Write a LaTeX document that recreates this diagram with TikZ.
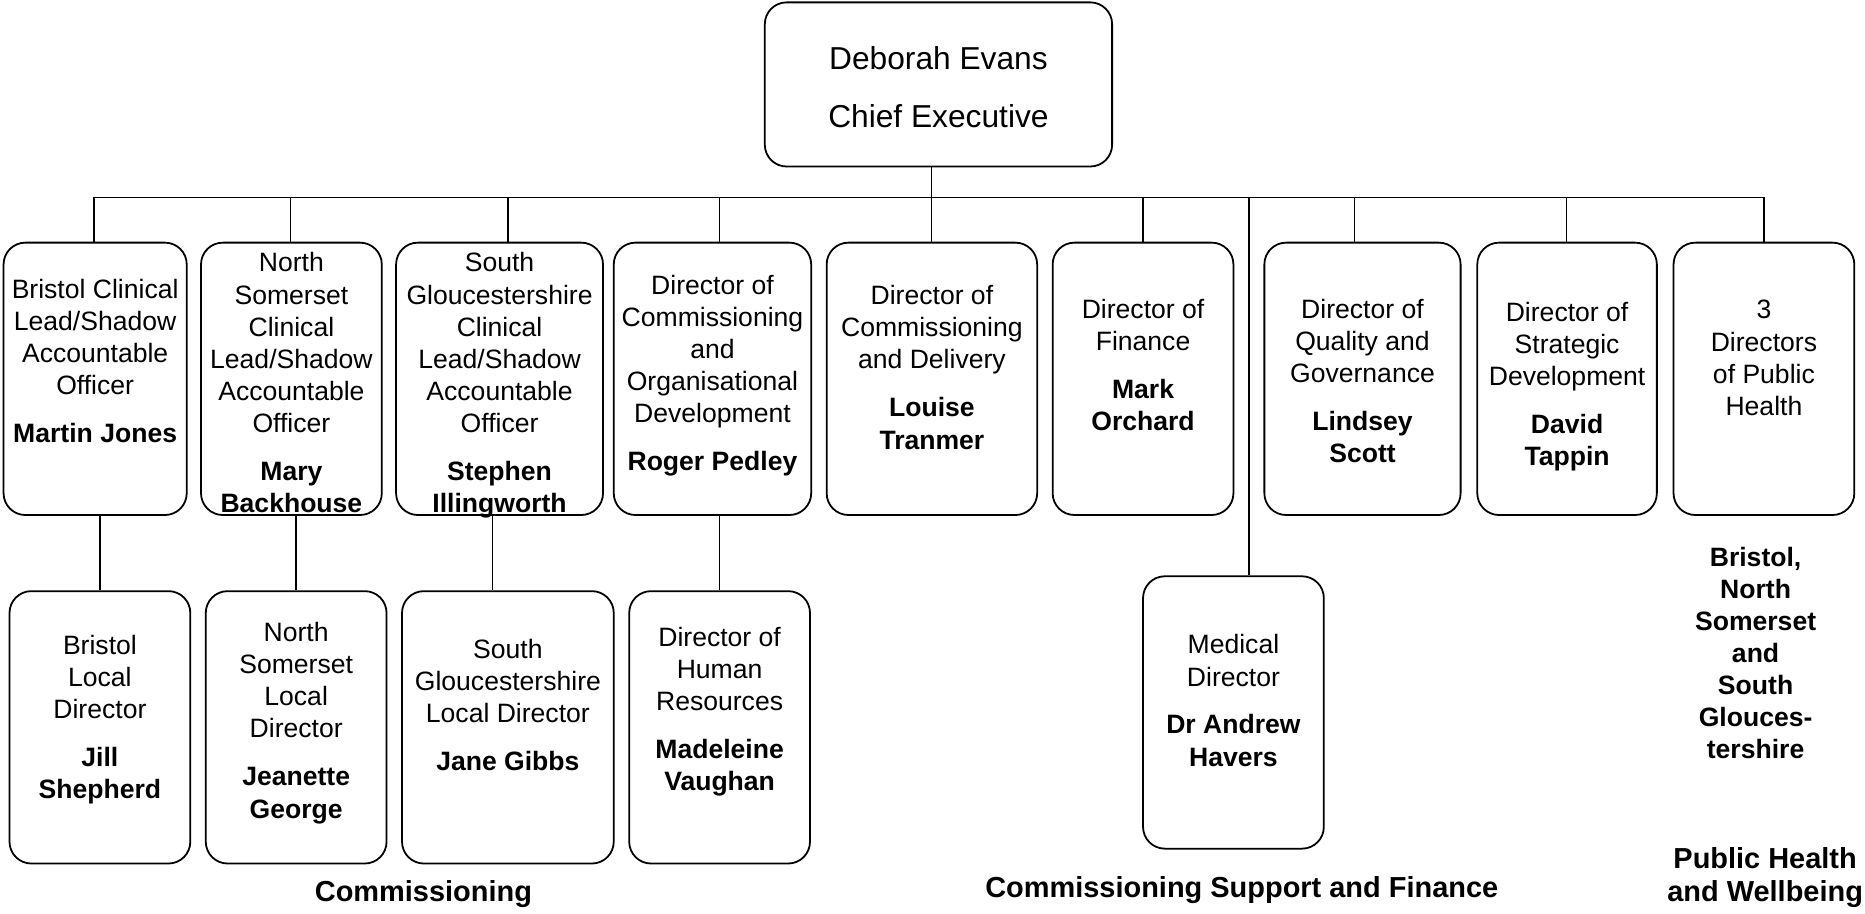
\documentclass[tikz,border=0pt]{standalone}
\usepackage{fontspec}
\setmainfont{Liberation Sans}
\usetikzlibrary{positioning}

\tikzset{
  post/.style={draw, rounded corners=11pt, line width=0.9pt, align=center,
    inner sep=2pt, minimum height=137.4pt, font=\fontsize{13.4}{16.2}\selectfont},
  link/.style={line width=0.7pt},
  unit/.style={align=center, font=\fontsize{14.6}{16.8}\selectfont\bfseries}
}

\begin{document}
\begin{tikzpicture}[x=0.6pt, y=-0.6pt]
  \useasboundingbox (0,0) rectangle (1568,768);

  \node[draw, rounded corners=11pt, line width=0.9pt, minimum width=175.2pt,
  minimum height=82.8pt, align=center, font=\fontsize{16}{19}\selectfont] (ceo) at (789,71) {Deborah Evans\\[10.4pt]Chief Executive\\[-21.4pt]\mbox{}};

  % first row
  \node[post, minimum width=92.4pt] (bcl) at (80,318.5) {Bristol Clinical\\Lead/Shadow\\Accountable\\Officer\\[8pt]\textbf{Martin Jones}\\[2pt]\mbox{}};
  \node[post, minimum width=91.2pt] (nscl) at (245,318.5) {North\\Somerset\\Clinical\\Lead/Shadow\\Accountable\\Officer\\[8pt]\textbf{Mary}\\\textbf{Backhouse}\\[-20pt]\mbox{}};
  \node[post, minimum width=104.4pt] (sgcl) at (420,318.5) {South\\Gloucestershire\\Clinical\\Lead/Shadow\\Accountable\\Officer\\[8pt]\textbf{Stephen}\\\textbf{Illingworth}\\[-20pt]\mbox{}};
  \node[post, minimum width=99.6pt] (dcod) at (599,318.5) {Director of\\Commissioning\\and\\Organisational\\Development\\[8pt]\textbf{Roger Pedley}\\[-10pt]\mbox{}};
  \node[post, minimum width=106.2pt] (dcd) at (783.5,318.5) {Director of\\Commissioning\\and Delivery\\[8pt]\textbf{Louise}\\\textbf{Tranmer}\\[-4.5pt]\mbox{}};
  \node[post, minimum width=91.2pt] (dof) at (961,318.5) {Director of\\Finance\\[8pt]\textbf{Mark}\\\textbf{Orchard}\\[-2pt]\mbox{}};
  \node[post, minimum width=99pt] (dqg) at (1145.5,318.5) {Director of\\Quality and\\Governance\\[8pt]\textbf{Lindsey}\\\textbf{Scott}\\[-18pt]\mbox{}};
  \node[post, minimum width=90.6pt] (dsd) at (1317.5,318.5) {Director of\\Strategic\\Development\\[8pt]\textbf{David}\\\textbf{Tappin}\\[-21pt]\mbox{}};
  \node[post, minimum width=91.2pt] (dph) at (1483,318.5) {3\\Directors\\of Public\\Health\\[5pt]\mbox{}};

  % second row
  \node[post, minimum width=91.2pt] (bld) at (84,611.5) {Bristol\\Local\\Director\\[8pt]\textbf{Jill}\\\textbf{Shepherd}\\[-5.5pt]\mbox{}};
  \node[post, minimum width=91.2pt] (nsld) at (249,611.5) {North\\Somerset\\Local\\Director\\[8pt]\textbf{Jeanette}\\\textbf{George}\\[-9pt]\mbox{}};
  \node[post, minimum width=106.8pt] (sgld) at (427,611.5) {South\\Gloucestershire\\Local Director\\[8pt]\textbf{Jane Gibbs}\\[6.6pt]\mbox{}};
  \node[post, minimum width=91.2pt] (dhr) at (605,611.5) {Director of\\Human\\Resources\\[8pt]\textbf{Madeleine}\\\textbf{Vaughan}\\[2.4pt]\mbox{}};
  \node[post, minimum width=91.2pt] (md) at (1037,599) {Medical\\Director\\[8pt]\textbf{Dr Andrew}\\\textbf{Havers}\\[-4pt]\mbox{}};

  % bus
  \coordinate (top) at (783,166);
  \coordinate (busl) at (79,166);
  \coordinate (busr) at (1483,166);
  \draw[link] (ceo.south -| top) -- (top);
  \draw[link] (busl) -- (busr);
  \foreach \n/\x in {bcl/79, nscl/244, sgcl/427, dcod/605, dcd/783, dof/961, dqg/1139, dsd/1317, dph/1483, md/1050}{
    \coordinate (d\n) at (\x,166);
    \draw[link] (d\n) -- (d\n |- \n.north);
  }

  % down to second row
  \draw[link] (bcl.south -| bld.north) -- (bld.north);
  \draw[link] (nscl.south -| nsld.north) -- (nsld.north);
  \draw[link] ([xshift=-7.8pt]sgld.north |- sgcl.south) -- ([xshift=-7.8pt]sgld.north);
  \draw[link] (dcod.south -| dhr.north) -- (dhr.north);

  % headings
  \node[font=\fontsize{13.4}{16.2}\selectfont\bfseries, align=center] (area) at (1476,549) {Bristol,\\North\\Somerset\\and\\South\\Glouces-\\tershire};
  \node[unit] (lcom) at (356,752) {Commissioning};
  \node[unit] (lcsf) at (1044,748) {Commissioning Support and Finance};
  \node[unit] (lphw) at (1484,738) {Public Health\\and Wellbeing};
\end{tikzpicture}
\end{document}
